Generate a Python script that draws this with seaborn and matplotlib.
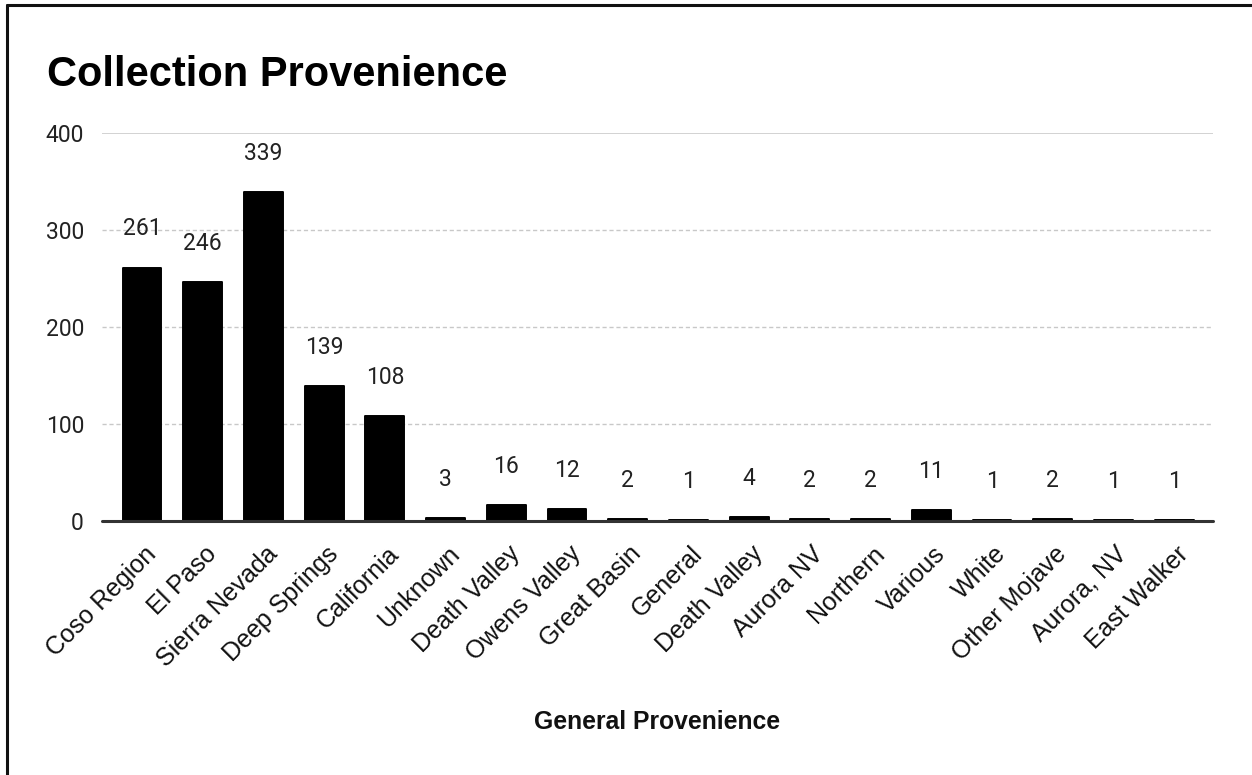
import matplotlib
matplotlib.use("Agg")
import matplotlib.pyplot as plt
import matplotlib.transforms as mtransforms
from matplotlib.lines import Line2D
import seaborn as sns
import pandas as pd

# Collection counts by general provenience
categories = [
    "Coso Region", "El Paso", "Sierra Nevada", "Deep Springs", "California",
    "Unknown", "Death Valley", "Owens Valley", "Great Basin", "General",
    "Death Valley", "Aurora NV", "Northern", "Various", "White",
    "Other Mojave", "Aurora, NV", "East Walker",
]
counts = [261, 246, 339, 139, 108, 3, 16, 12, 2, 1, 4, 2, 2, 11, 1, 2, 1, 1]
y_ticks = [0, 100, 200, 300, 400]

title_text = "Collection Provenience"
x_title = "General Provenience"

sns.set_theme(style="white")
plt.rcParams["font.family"] = ["Liberation Sans", "DejaVu Sans"]

W, H = 1252, 775
fig = plt.figure(figsize=(W / 100, H / 100), dpi=100)
fig.patch.set_facecolor("white")

ax = fig.add_axes([102 / W, 1 - 521 / H, (1213 - 102) / W, (521 - 133) / H])

df = pd.DataFrame({"pos": list(range(len(categories))), "count": counts})
sns.barplot(data=df, x="pos", y="count", color="black", width=0.64,
            saturation=1, ax=ax, edgecolor="black", linewidth=1.4,
            zorder=3)
for p in ax.patches:
    p.set_joinstyle("round")

ax.set_xlim(-0.66, len(categories) - 1 + 0.64)
ax.set_ylim(0, 400)

# gridlines
for t in y_ticks[1:]:
    if t == y_ticks[-1]:
        ax.axhline(t, color="#cfcfcf", lw=1.3, zorder=1)
    else:
        ax.axhline(t, color="#c8c8c8", lw=1.0, ls=(0, (3, 2)), zorder=1)
ax.axhline(0, color="#333333", lw=2.2, zorder=4, clip_on=False)

for s in ax.spines.values():
    s.set_visible(False)
ax.grid(False)

ax.set_yticks(y_ticks)
ax.set_yticklabels([str(t) for t in y_ticks], fontsize=16.5,
                   color="#222222", family=["Roboto", "DejaVu Sans"])
ax.tick_params(axis="y", length=0, pad=13)

ax.set_xticks(range(len(categories)))
ax.set_xticklabels(categories, rotation=45, ha="right", va="center",
                   rotation_mode="anchor", fontsize=18, color="#111111")
ax.tick_params(axis="x", length=0, pad=21)
shift = mtransforms.ScaledTranslation(10 / 100, 0, fig.dpi_scale_trans)
for lab in ax.get_xticklabels():
    lab.set_transform(lab.get_transform() + shift)

ax.set_xlabel("")
ax.set_ylabel("")

# value labels above bars
for i, v in enumerate(counts):
    ax.annotate(str(v), (i, v), xytext=(0, 28), textcoords="offset points",
                ha="center", va="center", fontsize=16.5, color="#222222",
                family=["Roboto", "DejaVu Sans"], zorder=5)

fig.text(47 / W, 1 - 86 / H, title_text, fontsize=30, fontweight="bold",
         color="black", ha="left", va="baseline")
fig.text(657.5 / W, 1 - 722 / H, x_title, fontsize=17.8, fontweight="bold",
         color="#111111", ha="center", va="center")

# frame lines along top and left edges
fig.add_artist(Line2D([7 / W, 7 / W], [0, 1 - 5 / H], transform=fig.transFigure,
                      color="#111111", lw=2.2))
fig.add_artist(Line2D([7 / W, 1], [1 - 5 / H, 1 - 5 / H], transform=fig.transFigure,
                      color="#111111", lw=2.2))

fig.savefig("out.png", dpi=100, facecolor="white")
